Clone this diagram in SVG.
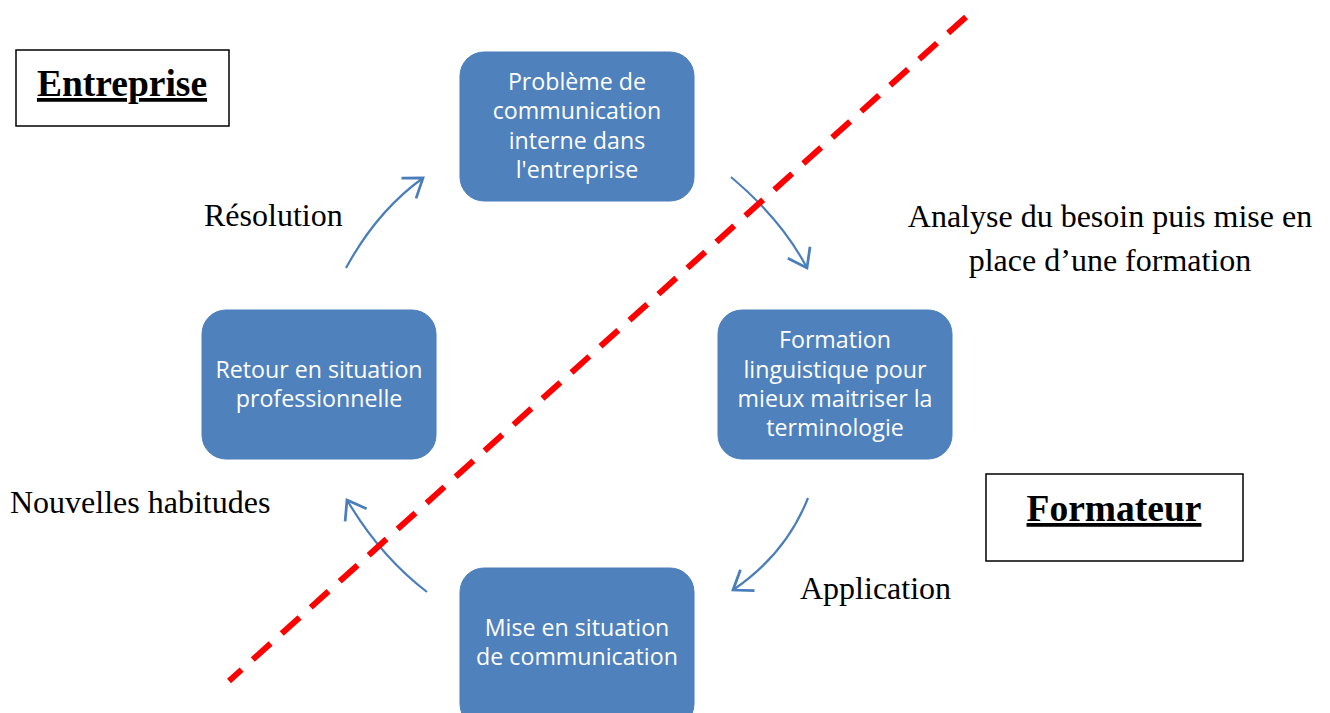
<svg xmlns="http://www.w3.org/2000/svg" width="1330" height="713" viewBox="0 0 1330 713">
<defs>
<marker id="chev" markerUnits="userSpaceOnUse" markerWidth="30" markerHeight="30" viewBox="-16 -12 20 24" refX="0" refY="0" orient="auto">
<path d="M-14,-10 L0,0 L-14,10" fill="none" stroke="#4A7EBB" stroke-width="2.2"/>
</marker>
<style>
.box{fill:#4F81BD;stroke:#4A7EBB;stroke-width:1}
.bt{font-family:"Open Sans","Noto Sans",sans-serif;font-size:23.2px;fill:#fff;text-anchor:middle}
.lbl{font-family:"Liberation Serif",serif;font-size:32px;fill:#000}
.ttl{font-family:"Liberation Serif",serif;font-size:37.5px;font-weight:bold;fill:#000;text-anchor:middle;text-decoration:underline}
.frame{fill:#fff;stroke:#000;stroke-width:1.5}
.arr{fill:none;stroke:#4A7EBB;stroke-width:2.2;marker-end:url(#chev)}
</style>
</defs>
<rect width="1330" height="713" fill="#fff"/>
<g id="connectors">
<path class="arr" d="M346,268 Q377,211 423,178"/>
<path class="arr" d="M731,177 Q782,220 807,268"/>
<path class="arr" d="M808,498 Q786,554 733,590"/>
<path class="arr" d="M427,592 Q380,556 347,500"/>
</g>
<g id="node-probleme">
<rect class="box" x="460" y="52" width="234" height="149" rx="24"/>
<text class="bt" x="577" y="90">Problème de</text>
<text class="bt" x="577" y="119">communication</text>
<text class="bt" x="577" y="149">interne dans</text>
<text class="bt" x="577" y="178">l'entreprise</text>
</g>
<g id="node-formation">
<rect class="box" x="718" y="310" width="234" height="149" rx="24"/>
<text class="bt" x="835" y="348">Formation</text>
<text class="bt" x="835" y="378">linguistique pour</text>
<text class="bt" x="835" y="407">mieux maitriser la</text>
<text class="bt" x="835" y="436">terminologie</text>
</g>
<g id="node-retour">
<rect class="box" x="202" y="310" width="234" height="149" rx="24"/>
<text class="bt" x="319" y="378">Retour en situation</text>
<text class="bt" x="319" y="407">professionnelle</text>
</g>
<g id="node-mise">
<rect class="box" x="460" y="568" width="234" height="160" rx="24"/>
<text class="bt" x="577" y="636">Mise en situation</text>
<text class="bt" x="577" y="665">de communication</text>
</g>
<g id="divider">
<line x1="966" y1="17" x2="229" y2="681" stroke="#FF0000" stroke-width="6" stroke-dasharray="24,15"/>
</g>
<g id="node-entreprise">
<rect class="frame" x="16" y="50" width="213" height="76"/>
<text class="ttl" x="122" y="96">Entreprise</text>
</g>
<g id="node-formateur">
<rect class="frame" x="986" y="474" width="257" height="87"/>
<text class="ttl" x="1114" y="521">Formateur</text>
</g>
<g id="labels">
<text class="lbl" x="204" y="226">Résolution</text>
<text class="lbl" x="1110" y="227" text-anchor="middle">Analyse du besoin puis mise en</text>
<text class="lbl" x="1110" y="271" text-anchor="middle">place d’une formation</text>
<text class="lbl" x="10" y="513">Nouvelles habitudes</text>
<text class="lbl" x="800" y="599">Application</text>
</g>
</svg>
